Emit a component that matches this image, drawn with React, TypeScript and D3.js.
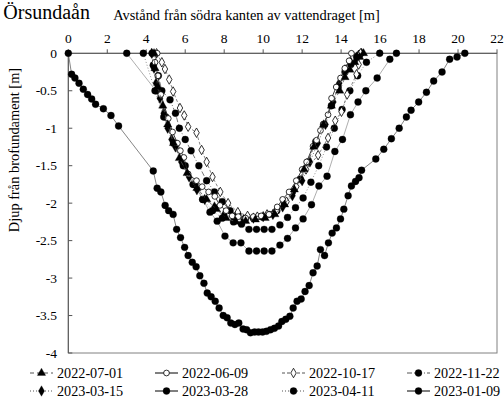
import React from 'react';
import * as d3 from 'd3';

// Örsundaån – bottenprofil vid bron, olika mättillfällen
const xTicks = [0, 2, 4, 6, 8, 10, 12, 14, 16, 18, 20, 22];
const yTicks = [0, -0.5, -1, -1.5, -2, -2.5, -3, -3.5, -4];

const s20220701: [number, number][] = [
  [4.4, 0], [4.45, -0.2], [4.6, -0.45], [4.85, -0.7], [5.1, -0.95], [5.4, -1.2], [5.7, -1.4], [6.1, -1.6],
  [6.6, -1.8], [7.1, -1.95], [7.6, -2.08], [8.1, -2.2], [8.6, -2.25], [9.1, -2.24], [9.6, -2.22], [10.1, -2.2],
  [10.6, -2.15], [11.1, -2.02], [11.6, -1.82], [12.1, -1.55], [12.6, -1.25], [13.1, -0.95], [13.5, -0.7],
  [13.93, -0.5], [14.2, -0.32], [14.45, -0.22], [14.7, -0.12], [14.95, -0.05], [15.15, 0],
];
const s20220609: [number, number][] = [
  [4.56, 0], [4.45, -0.12], [4.6, -0.3], [4.75, -0.55], [5.13, -0.87], [5.35, -1.05], [5.6, -1.2], [5.75, -1.3],
  [5.93, -1.39], [6.15, -1.61], [6.58, -1.7], [6.87, -1.78], [7.2, -1.85], [7.52, -1.91], [7.78, -2.03],
  [8.1, -2.1], [8.41, -2.17], [8.72, -2.18], [9.1, -2.2], [9.5, -2.18], [9.9, -2.17], [10.3, -2.15],
  [10.72, -2.05], [11.0, -1.95], [11.33, -1.85], [11.7, -1.7], [12.0, -1.55], [12.23, -1.45], [12.56, -1.24],
  [12.74, -1.16], [12.94, -1.03], [13.1, -0.95], [13.33, -0.82], [13.51, -0.6], [13.75, -0.45], [13.97, -0.33],
  [14.19, -0.2], [14.41, -0.1], [14.53, 0],
];
const s20221017: [number, number][] = [
  [4.53, 0], [4.8, -0.12], [4.96, -0.21], [5.18, -0.35], [5.38, -0.51], [5.73, -0.73], [5.95, -0.83],
  [6.15, -0.98], [6.58, -1.06], [6.84, -1.29], [7.1, -1.45], [7.4, -1.65], [7.8, -1.85], [8.2, -2.0],
  [8.7, -2.12], [9.2, -2.17], [9.7, -2.18], [10.2, -2.15], [10.7, -2.1], [11.2, -1.98], [11.7, -1.78],
  [12.2, -1.55], [12.82, -1.36], [13.33, -1.13], [13.7, -0.9], [14.02, -0.78], [14.31, -0.55], [14.79, -0.28],
  [14.9, -0.15], [15.0, 0],
];
const s20221122: [number, number][] = [
  [4.3, 0], [4.36, -0.16], [4.62, -0.3], [4.8, -0.5], [5.22, -0.62], [5.5, -0.8], [5.7, -1.0], [6.0, -1.15],
  [6.3, -1.3], [6.7, -1.5], [7.1, -1.7], [7.5, -1.85], [7.9, -1.98], [8.3, -2.1], [8.7, -2.15], [9.1, -2.2],
  [9.5, -2.2], [9.9, -2.18], [10.3, -2.15], [10.7, -2.1], [11.1, -2.0], [11.5, -1.85], [11.9, -1.68],
  [12.3, -1.45], [12.7, -1.18], [13.1, -0.95], [13.5, -0.7], [13.85, -0.45], [14.2, -0.25], [14.5, -0.15],
  [14.8, -0.05], [15.0, 0],
];
const s20230315: [number, number][] = [
  [4.28, 0], [4.4, -0.2], [4.5, -0.4], [4.7, -0.6], [4.9, -0.8], [5.1, -1.0], [5.3, -1.15], [5.5, -1.25],
  [5.8, -1.45], [6.2, -1.65], [6.6, -1.82], [7.0, -1.95], [7.5, -2.05], [8.0, -2.15], [8.5, -2.2], [9.0, -2.22],
  [9.5, -2.2], [10.0, -2.18], [10.5, -2.15], [11.0, -2.05], [11.5, -1.9], [12.0, -1.7], [12.4, -1.45],
  [12.8, -1.2], [13.2, -0.95], [13.6, -0.65], [13.9, -0.4], [14.2, -0.22], [14.5, -0.12], [14.8, -0.05], [15.05, 0],
];
const s20230328: [number, number][] = [
  [3.0, 0], [4.5, -0.5], [5.0, -0.85], [5.5, -1.2], [6.0, -1.5], [6.5, -1.75], [6.9, -1.95], [7.27, -2.12],
  [7.64, -2.24], [8.04, -2.44], [8.46, -2.53], [8.86, -2.53], [9.27, -2.64], [9.66, -2.64], [10.05, -2.64],
  [10.45, -2.64], [10.86, -2.56], [11.25, -2.47], [11.66, -2.33], [12.05, -2.21], [12.48, -2.02], [12.86, -1.77],
  [13.28, -1.64], [13.68, -1.31], [14.07, -1.15], [14.48, -0.82], [14.87, -0.65], [15.27, -0.5], [15.85, -0.33],
  [16.5, -0.08], [16.84, 0],
];
const s20230411: [number, number][] = [
  [3.85, 0], [4.45, -0.5], [4.9, -0.85], [5.4, -1.2], [5.9, -1.5], [6.4, -1.75], [6.9, -1.95], [7.4, -2.1],
  [7.9, -2.2], [8.48, -2.25], [8.89, -2.28], [9.27, -2.35], [9.66, -2.35], [10.05, -2.35], [10.45, -2.35],
  [10.86, -2.29], [11.25, -2.19], [11.66, -2.06], [12.05, -1.93], [12.45, -1.72], [12.85, -1.5], [13.25, -1.25],
  [13.65, -1.0], [14.05, -0.75], [14.45, -0.5], [14.85, -0.3], [15.3, -0.12], [15.98, 0],
];
const s20230109: [number, number][] = [
  [0, 0], [0.17, -0.28], [0.34, -0.33], [0.55, -0.4], [0.77, -0.48], [0.99, -0.55], [1.2, -0.61], [1.4, -0.68],
  [1.8, -0.74], [2.19, -0.83], [2.58, -0.97], [4.36, -1.57], [4.56, -1.8], [4.75, -1.85], [4.97, -2.03],
  [5.15, -2.1], [5.38, -2.15], [5.56, -2.35], [5.76, -2.46], [5.97, -2.59], [6.15, -2.7], [6.36, -2.79],
  [6.56, -2.85], [6.75, -2.97], [6.96, -3.07], [7.13, -3.2], [7.33, -3.25], [7.54, -3.31], [7.74, -3.4],
  [7.95, -3.5], [8.15, -3.53], [8.34, -3.6], [8.55, -3.62], [8.75, -3.6], [8.97, -3.68], [9.15, -3.69],
  [9.35, -3.73], [9.56, -3.72], [9.76, -3.72], [9.97, -3.72], [10.17, -3.71], [10.38, -3.69], [10.58, -3.67],
  [10.79, -3.64], [10.96, -3.58], [11.16, -3.55], [11.37, -3.51], [11.54, -3.4], [11.74, -3.31], [11.95, -3.28],
  [12.15, -3.18], [12.36, -3.1], [12.56, -2.93], [12.77, -2.84], [12.94, -2.62], [13.15, -2.7], [13.35, -2.53],
  [13.54, -2.4], [13.76, -2.33], [13.97, -2.21], [14.14, -2.08], [14.36, -1.9], [14.53, -1.77], [14.74, -1.71],
  [14.92, -1.66], [15.05, -1.56], [15.78, -1.41], [16.19, -1.28], [16.58, -1.14], [16.98, -1.0], [17.35, -0.85],
  [17.59, -0.76], [17.98, -0.65], [18.38, -0.52], [18.75, -0.37], [19.18, -0.25], [19.57, -0.08], [19.95, -0.05],
  [20.35, 0],
];

type Marker = 'triangle' | 'circleOpen' | 'diamondOpen' | 'circle' | 'diamond';

const series: { label: string; data: [number, number][]; marker: Marker; dash: string; stroke: string; width: number }[] = [
  { label: '2022-07-01', data: s20220701, marker: 'triangle', dash: '4,3', stroke: '#555', width: 0.8 },
  { label: '2022-06-09', data: s20220609, marker: 'circleOpen', dash: '', stroke: '#222', width: 0.9 },
  { label: '2022-10-17', data: s20221017, marker: 'diamondOpen', dash: '3,2', stroke: '#666', width: 0.8 },
  { label: '2022-11-22', data: s20221122, marker: 'circle', dash: '5,2,1,2', stroke: '#555', width: 0.8 },
  { label: '2023-03-15', data: s20230315, marker: 'diamond', dash: '1,2', stroke: '#555', width: 0.8 },
  { label: '2023-03-28', data: s20230328, marker: 'circle', dash: '', stroke: '#999', width: 0.8 },
  { label: '2023-04-11', data: s20230411, marker: 'circle', dash: '1,2', stroke: '#777', width: 0.8 },
  { label: '2023-01-09', data: s20230109, marker: 'circle', dash: '', stroke: '#777', width: 0.9 },
];

const W = 504;
const H = 402;
const x = d3.scaleLinear().domain([0, 22]).range([68.3, 497]);
const y = d3.scaleLinear().domain([-4, 0]).range([353, 53.3]);
const FONT = '"Liberation Serif", "Times New Roman", serif';

const symbolPath = (m: Marker) => {
  if (m === 'triangle') return d3.symbol().type(d3.symbolTriangle).size(30)()!;
  if (m === 'diamond' || m === 'diamondOpen') return d3.symbol().type(d3.symbolDiamond).size(m === 'diamond' ? 32 : 26)()!;
  return d3.symbol().type(d3.symbolCircle).size(m === 'circleOpen' ? 26 : 38)()!;
};

const MarkerShape = ({ m, cx, cy }: { m: Marker; cx: number; cy: number }) => {
  const open = m === 'circleOpen' || m === 'diamondOpen';
  return (
    <path
      d={symbolPath(m)}
      transform={`translate(${cx},${cy})`}
      fill={open ? '#fff' : '#000'}
      stroke="#000"
      strokeWidth={open ? 0.8 : 0.3}
    />
  );
};

const line = d3.line<[number, number]>().x(d => x(d[0])).y(d => y(d[1]));

const legendCols = [30, 155, 282, 407];
const legendRows = [373, 391];

export default function App() {
  return (
    <svg
      width={W}
      height={H}
      style={{ position: 'absolute', left: 0, top: 0, background: '#fff' }}
      fontFamily={FONT}
    >
      <rect width={W} height={H} fill="#fff" />
      <text x={90} y={19} textAnchor="end" fontSize={20}>Örsundaån</text>
      <text x={246.5} y={20} textAnchor="middle" fontSize={14.4}>Avstånd från södra kanten av vattendraget [m]</text>
      <text transform={`translate(19,150) rotate(-90)`} textAnchor="middle" fontSize={14.4}>Djup från brofundament [m]</text>

      {/* frame */}
      <rect x={x(0)} y={y(0)} width={x(22) - x(0)} height={y(-4) - y(0)} fill="none" stroke="#808080" strokeWidth={1} />
      <line x1={x(0)} x2={x(22)} y1={y(0)} y2={y(0)} stroke="#555" />
      <line x1={x(0)} x2={x(0)} y1={y(0)} y2={y(-4)} stroke="#555" />

      {xTicks.map(t => (
        <g key={`xt${t}`}>
          <line x1={x(t)} x2={x(t)} y1={y(0) - 4} y2={y(0)} stroke="#555" />
          <text x={x(t)} y={43} textAnchor="middle" fontSize={13.5}>{t}</text>
        </g>
      ))}
      {yTicks.map(t => (
        <g key={`yt${t}`}>
          <line x1={x(0)} x2={x(0) + 4} y1={y(t)} y2={y(t)} stroke="#555" />
          <text x={57} y={y(t)} dy="0.35em" textAnchor="end" fontSize={13.5}>{`${t}`}</text>
        </g>
      ))}

      {/* series */}
      {series.slice().reverse().map(s => (
        <g key={s.label}>
          <path d={line(s.data)!} fill="none" stroke={s.stroke} strokeWidth={s.width} strokeDasharray={s.dash || undefined} />
          {s.data.map((d, i) => (
            <MarkerShape key={i} m={s.marker} cx={x(d[0])} cy={y(d[1])} />
          ))}
        </g>
      ))}

      {/* legend */}
      {series.map((s, i) => {
        const lx = legendCols[i % 4];
        const ly = legendRows[Math.floor(i / 4)];
        return (
          <g key={`lg${s.label}`}>
            <line x1={lx} x2={lx + 23} y1={ly} y2={ly} stroke={s.dash ? '#555' : '#000'} strokeWidth={1} strokeDasharray={s.dash || undefined} />
            <MarkerShape m={s.marker} cx={lx + 11.5} cy={ly} />
            <text x={lx + 27} y={ly} dy="0.35em" fontSize={14.2}>{s.label}</text>
          </g>
        );
      })}
    </svg>
  );
}
